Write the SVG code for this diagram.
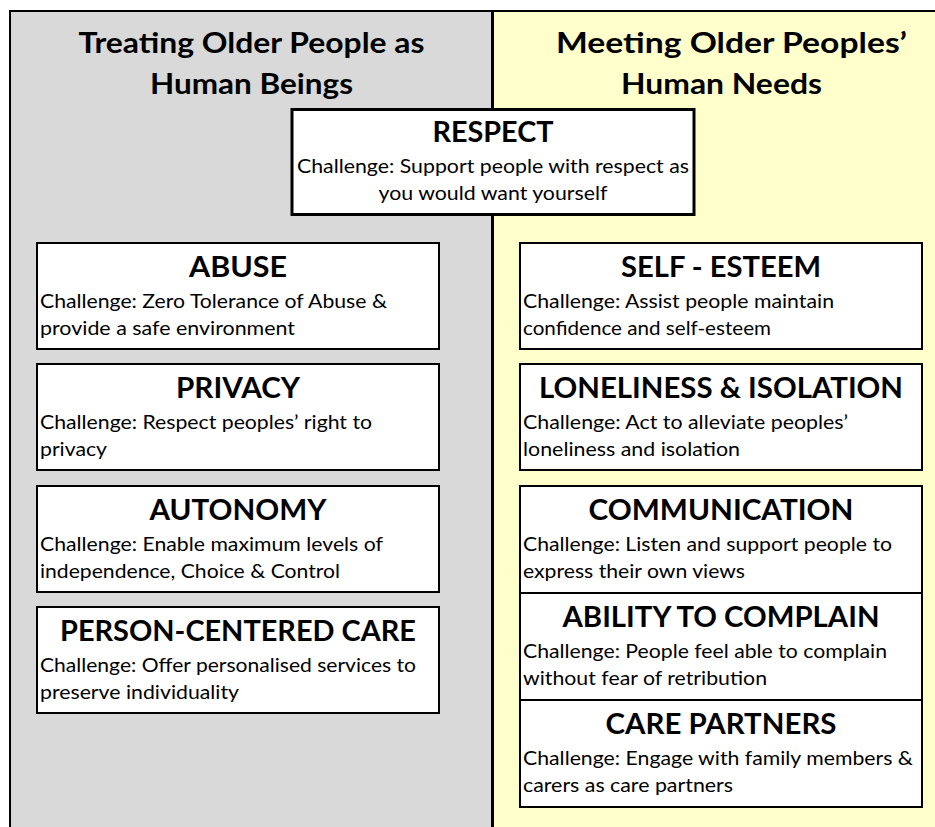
<svg xmlns="http://www.w3.org/2000/svg" width="935" height="827" viewBox="0 0 935 827">
  <style>
    .panel-left { fill: #d9d9d9; }
    .panel-right { fill: #ffffcc; }
    .frame { fill: none; stroke: #000; stroke-width: 2; }
    .divider { stroke: #000; stroke-width: 3; }
    .box { fill: #fff; stroke: #000; stroke-width: 2; }
    .box-main { fill: #fff; stroke: #000; stroke-width: 3; }
    .head { font-family: Lato, "Liberation Sans", sans-serif; font-weight: bold; font-size: 28px; fill: #000; text-anchor: middle; }
    .title { font-family: Lato, "Liberation Sans", sans-serif; font-weight: bold; font-size: 28px; fill: #000; text-anchor: middle; }
    .body { font-family: Lato, "Liberation Sans", sans-serif; font-size: 19px; fill: #000; }
    .body-c { font-family: Lato, "Liberation Sans", sans-serif; font-size: 19px; fill: #000; text-anchor: middle; }
  </style>

  <!-- two background columns -->
  <rect class="panel-left" x="10" y="11" width="482" height="830"/>
  <rect class="panel-right" x="492" y="11" width="460" height="830"/>
  <rect class="frame" x="10" y="11" width="1000" height="900"/>
  <line class="divider" x1="492.5" y1="11" x2="492.5" y2="827"/>

  <!-- column headings -->
  <g id="heading-left">
    <text class="head" x="251.5" y="53" textLength="346" lengthAdjust="spacingAndGlyphs">Treating Older People as</text>
    <text class="head" x="251.5" y="94" textLength="203" lengthAdjust="spacingAndGlyphs">Human Beings</text>
  </g>
  <g id="heading-right">
    <text class="head" x="731.5" y="53" textLength="351" lengthAdjust="spacingAndGlyphs">Meeting Older Peoples’</text>
    <text class="head" x="721.5" y="94" textLength="201" lengthAdjust="spacingAndGlyphs">Human Needs</text>
  </g>

  <!-- central box -->
  <g id="respect">
    <rect class="box-main" x="292" y="109.5" width="402" height="105"/>
    <text class="title" x="493" y="142" textLength="121" lengthAdjust="spacingAndGlyphs">RESPECT</text>
    <text class="body-c" x="493" y="173" textLength="392" lengthAdjust="spacingAndGlyphs">Challenge: Support people with respect as</text>
    <text class="body-c" x="493" y="200" textLength="229" lengthAdjust="spacingAndGlyphs">you would want yourself</text>
  </g>

  <!-- left column boxes -->
  <g id="abuse">
    <rect class="box" x="37" y="243" width="402" height="106"/>
    <text class="title" x="238" y="277" textLength="98" lengthAdjust="spacingAndGlyphs">ABUSE</text>
    <text class="body" x="40" y="308" textLength="347" lengthAdjust="spacingAndGlyphs">Challenge: Zero Tolerance of Abuse &amp;</text>
    <text class="body" x="40" y="335" textLength="255" lengthAdjust="spacingAndGlyphs">provide a safe environment</text>
  </g>
  <g id="privacy">
    <rect class="box" x="37" y="364" width="402" height="106"/>
    <text class="title" x="238" y="398" textLength="124" lengthAdjust="spacingAndGlyphs">PRIVACY</text>
    <text class="body" x="40" y="429" textLength="332" lengthAdjust="spacingAndGlyphs">Challenge: Respect peoples’ right to</text>
    <text class="body" x="40" y="456" textLength="67" lengthAdjust="spacingAndGlyphs">privacy</text>
  </g>
  <g id="autonomy">
    <rect class="box" x="37" y="486" width="402" height="106"/>
    <text class="title" x="238" y="520" textLength="177" lengthAdjust="spacingAndGlyphs">AUTONOMY</text>
    <text class="body" x="40" y="551" textLength="343" lengthAdjust="spacingAndGlyphs">Challenge: Enable maximum levels of</text>
    <text class="body" x="40" y="578" textLength="300" lengthAdjust="spacingAndGlyphs">independence, Choice &amp; Control</text>
  </g>
  <g id="person-centered-care">
    <rect class="box" x="37" y="607" width="402" height="106"/>
    <text class="title" x="238" y="641" textLength="356" lengthAdjust="spacingAndGlyphs">PERSON-CENTERED CARE</text>
    <text class="body" x="40" y="672" textLength="376" lengthAdjust="spacingAndGlyphs">Challenge: Offer personalised services to</text>
    <text class="body" x="40" y="699" textLength="199" lengthAdjust="spacingAndGlyphs">preserve individuality</text>
  </g>

  <!-- right column boxes -->
  <g id="self-esteem">
    <rect class="box" x="520" y="243" width="402" height="106"/>
    <text class="title" x="721" y="277" textLength="200" lengthAdjust="spacingAndGlyphs">SELF - ESTEEM</text>
    <text class="body" x="523" y="308" textLength="311" lengthAdjust="spacingAndGlyphs">Challenge: Assist people maintain</text>
    <text class="body" x="523" y="335" textLength="248" lengthAdjust="spacingAndGlyphs">confidence and self-esteem</text>
  </g>
  <g id="loneliness-isolation">
    <rect class="box" x="520" y="364" width="402" height="106"/>
    <text class="title" x="721" y="398" textLength="364" lengthAdjust="spacingAndGlyphs">LONELINESS &amp; ISOLATION</text>
    <text class="body" x="523" y="429" textLength="325" lengthAdjust="spacingAndGlyphs">Challenge: Act to alleviate peoples’</text>
    <text class="body" x="523" y="456" textLength="217" lengthAdjust="spacingAndGlyphs">loneliness and isolation</text>
  </g>
  <g id="communication">
    <rect class="box" x="520" y="486" width="402" height="107"/>
    <text class="title" x="721" y="520" textLength="265" lengthAdjust="spacingAndGlyphs">COMMUNICATION</text>
    <text class="body" x="523" y="551" textLength="369" lengthAdjust="spacingAndGlyphs">Challenge: Listen and support people to</text>
    <text class="body" x="523" y="578" textLength="222" lengthAdjust="spacingAndGlyphs">express their own views</text>
  </g>
  <g id="ability-to-complain">
    <rect class="box" x="520" y="593" width="402" height="107"/>
    <text class="title" x="721" y="627" textLength="317" lengthAdjust="spacingAndGlyphs">ABILITY TO COMPLAIN</text>
    <text class="body" x="523" y="658" textLength="364" lengthAdjust="spacingAndGlyphs">Challenge: People feel able to complain</text>
    <text class="body" x="523" y="685" textLength="244" lengthAdjust="spacingAndGlyphs">without fear of retribution</text>
  </g>
  <g id="care-partners">
    <rect class="box" x="520" y="700" width="402" height="107"/>
    <text class="title" x="721" y="734" textLength="231" lengthAdjust="spacingAndGlyphs">CARE PARTNERS</text>
    <text class="body" x="523" y="765" textLength="390" lengthAdjust="spacingAndGlyphs">Challenge: Engage with family members &amp;</text>
    <text class="body" x="523" y="792" textLength="210" lengthAdjust="spacingAndGlyphs">carers as care partners</text>
  </g>
</svg>
